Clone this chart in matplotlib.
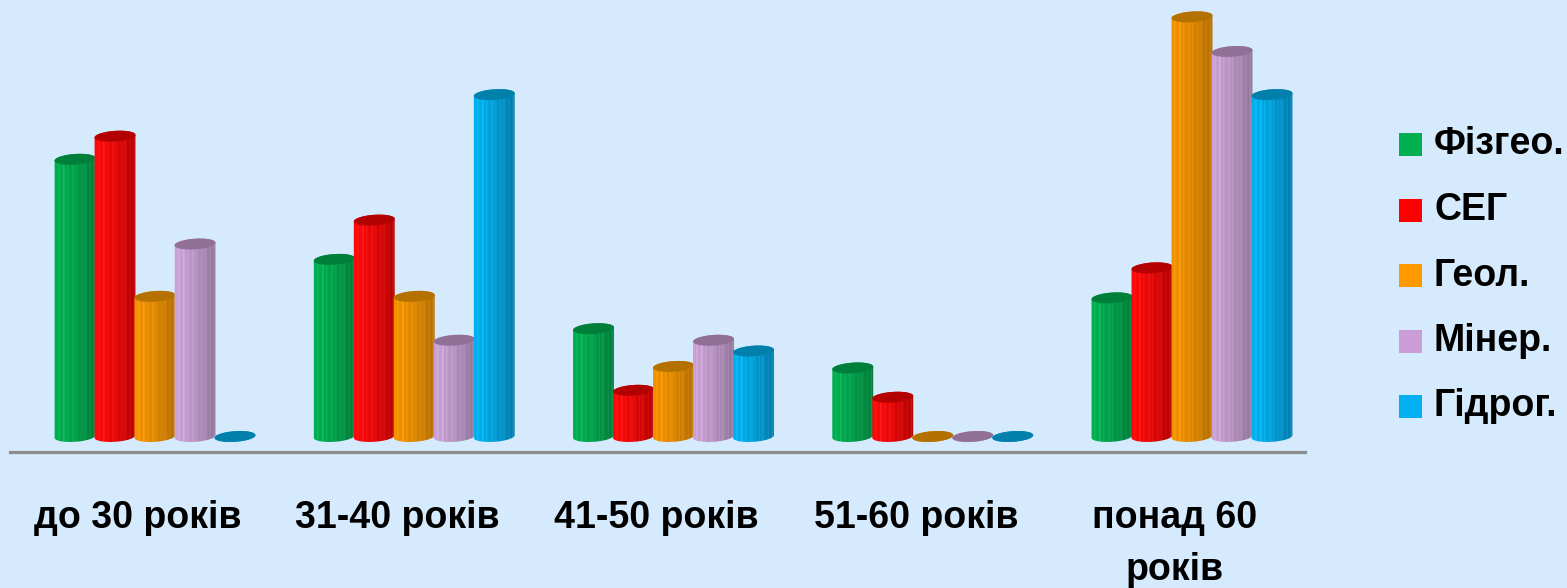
import numpy as np
import matplotlib
matplotlib.use("Agg")
import matplotlib.pyplot as plt
from matplotlib.patches import Polygon, Rectangle
from matplotlib.colors import to_rgb

# вікові групи і частки (%) по кафедрах
groups = ["до 30 років", "31-40 років", "41-50 років", "51-60 років", "понад 60\nроків"]
series = ["Фізгео.", "СЕГ", "Геол.", "Мінер.", "Гідрог."]
fizgeo = [36.0, 23.0, 14.0, 8.9, 18.0]
seg = [39.0, 28.1, 6.0, 5.1, 21.9]
geol = [18.2, 18.2, 9.1, 0.0, 54.5]
miner = [25.0, 12.5, 12.5, 0.0, 50.0]
gidrog = [0.0, 44.4, 11.1, 0.0, 44.4]
values = [fizgeo, seg, geol, miner, gidrog]

# light side, dark side, top, legend
colors = [
    ("#00B050", "#007A3A", "#007F3B", "#00B050"),
    ("#FF0A0A", "#B00000", "#B30000", "#FF0000"),
    ("#F59300", "#B06C00", "#B47100", "#FF9900"),
    ("#CBA2D6", "#8D7296", "#917098", "#CC9CD6"),
    ("#00B2F0", "#0077A6", "#0080AA", "#00B0F0"),
]
bg = "#D5EAFC"

W, H = 1567, 588
fig = plt.figure(figsize=(W / 100, H / 100), dpi=100, facecolor=bg)
ax = fig.add_axes([10 / W, 136 / H, 1295 / W, 452 / H])
ax.set_facecolor(bg)

pitch = 259.25      # px per group
ypx = 7.7           # px per percent
ax.set_xlim(-145 / pitch, 1150 / pitch)
ax.set_ylim(-15.5 / ypx, 436.5 / ypx)

a, b, tilt = 20.5, 5.3, np.radians(4)


def ell(cx, cy, t):
    x = a * np.cos(t) * np.cos(tilt) - b * np.sin(t) * np.sin(tilt)
    y = a * np.cos(t) * np.sin(tilt) + b * np.sin(t) * np.cos(tilt)
    return cx + x / pitch, cy + y / ypx


n = 48
cols = np.arange(n)
stripe = ((cols * 7) % 5 == 0) | ((cols * 3) % 11 == 0)


def cylinder(cx, v, c_light, c_dark, c_top, z):
    l, d = np.array(to_rgb(c_light)), np.array(to_rgb(c_dark))
    f = (cols / (n - 1)) ** 1.3
    img = l[None, :] * (1 - f[:, None]) + d[None, :] * f[:, None]
    img = np.where(stripe[:, None], np.clip(img + 0.07, 0, 1), img)
    img = img[None, :, :]
    t1 = np.linspace(np.pi, 2 * np.pi, 60)
    t2 = np.linspace(0, np.pi, 60)
    xb, yb = ell(cx, 0, t1)
    xt, yt = ell(cx, v, t2)
    pts = np.column_stack([np.r_[xb, xt], np.r_[yb, yt]])
    body = Polygon(pts, closed=True, facecolor="none", edgecolor="none")
    ax.add_patch(body)
    im = ax.imshow(img, extent=[cx - (a + 1) / pitch, cx + (a + 1) / pitch,
                                -10 / ypx, v + 10 / ypx],
                   aspect="auto", interpolation="bilinear", zorder=z)
    im.set_clip_path(body)
    t = np.linspace(0, 2 * np.pi, 120)
    xe, ye = ell(cx, v, t)
    ax.fill(xe, ye, color=c_top, zorder=z + 0.5, lw=0)


for i in range(len(groups)):
    for j, s in enumerate(values):
        cx = i + (j - 2) * 40 / pitch
        cylinder(cx, s[i], *colors[j][:3], z=2 + j)

for sp in ["top", "left", "right"]:
    ax.spines[sp].set_visible(False)
ax.spines["bottom"].set_color("#8C8C8C")
ax.spines["bottom"].set_linewidth(2.3)
ax.set_xticks([])
ax.set_yticks([])

for i, g in enumerate(groups):
    for k, line in enumerate(g.split("\n")):
        fig.text((155 + i * pitch - 17) / W, 1 - (518 + k * 52) / H, line,
                 ha="center", va="center", fontsize=27, family="Liberation Sans",
                 fontweight="bold", color="black")

for j, s in enumerate(series):
    yc = 144.5 + j * 65.5
    fig.patches.append(Rectangle((1399 / W, 1 - (yc + 11.5) / H), 23 / W, 23 / H,
                                 transform=fig.transFigure, facecolor=colors[j][3],
                                 edgecolor="none"))
    fig.text(1434 / W, 1 - yc / H, s, ha="left", va="center", fontsize=27,
             family="Liberation Sans", fontweight="bold", color="black")

fig.savefig("out.png", dpi=100, facecolor=bg)
